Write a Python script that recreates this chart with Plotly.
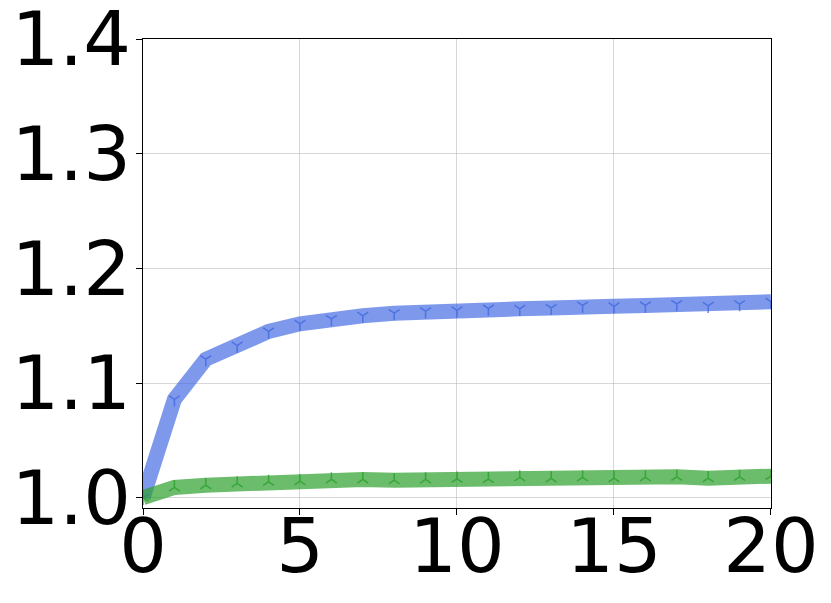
import plotly.graph_objects as go

x_vals = list(range(21))
blue_vals = [1.000, 1.0858, 1.1208, 1.1327, 1.1450, 1.1517, 1.1560, 1.1587, 1.1610, 1.1627,
             1.1635, 1.1650, 1.1648, 1.1656, 1.1677, 1.1670, 1.1677, 1.1690, 1.1674, 1.1689, 1.1709]
green_vals = [1.000, 1.0089, 1.0109, 1.0124, 1.0138, 1.0144, 1.0159, 1.0159, 1.0153, 1.0159,
              1.0165, 1.0162, 1.0177, 1.0168, 1.0177, 1.0170, 1.0177, 1.0182, 1.0170, 1.0182, 1.0188]
x_ticks = [0, 5, 10, 15, 20]
y_ticks = [1.0, 1.1, 1.2, 1.3, 1.4]

fig = go.Figure()
fig.add_trace(go.Scatter(
    x=x_vals, y=blue_vals, mode="lines",
    line=dict(color="rgba(65,105,225,0.68)", width=15),
    showlegend=False, hoverinfo="skip"))
fig.add_trace(go.Scatter(
    x=x_vals, y=blue_vals, mode="markers",
    marker=dict(symbol="y-down", size=9, color="rgba(65,105,225,0.8)",
                line=dict(color="rgba(65,105,225,0.8)", width=1.5)),
    showlegend=False, hoverinfo="skip"))
fig.add_trace(go.Scatter(
    x=x_vals, y=green_vals, mode="lines",
    line=dict(color="rgba(44,160,44,0.7)", width=15),
    showlegend=False, hoverinfo="skip"))
fig.add_trace(go.Scatter(
    x=x_vals, y=green_vals, mode="markers",
    marker=dict(symbol="y-up", size=9, color="rgba(44,160,44,0.8)",
                line=dict(color="rgba(44,160,44,0.8)", width=1.5)),
    showlegend=False, hoverinfo="skip"))

axis_common = dict(
    showline=True, linecolor="black", linewidth=1.3, mirror=True,
    ticks="outside", ticklen=6, tickwidth=1.3, tickcolor="black",
    showgrid=True, gridcolor="rgba(176,176,176,0.5)", gridwidth=1,
    zeroline=False, automargin=False, ticklabeloverflow="allow",
    tickfont=dict(family="DejaVu Sans", size=75, color="black"),
)

fig.update_xaxes(range=[0, 20.001], tickvals=x_ticks, ticktext=[str(v) for v in x_ticks],
                 ticklabelstandoff=-33, **axis_common)
fig.update_yaxes(range=[0.991, 1.4002], tickvals=y_ticks, ticktext=[f"{v:.1f}" for v in y_ticks],
                 ticklabelstandoff=-10, **axis_common)

fig.update_layout(
    width=831, height=603,
    margin=dict(l=135, r=67.5, t=31, b=103.3, autoexpand=False),
    paper_bgcolor="white", plot_bgcolor="white",
)

fig.write_html("out.html")
